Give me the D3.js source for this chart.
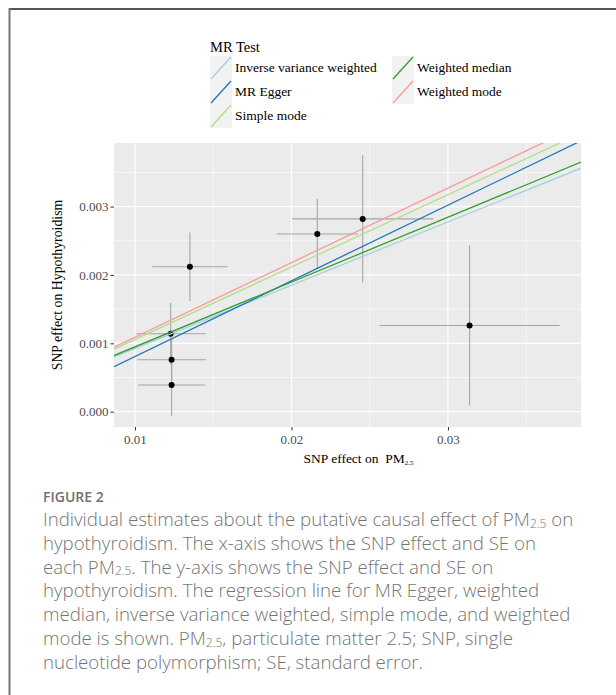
<!DOCTYPE html>
<html><head><meta charset="utf-8">
<script src="https://cdn.jsdelivr.net/npm/d3@7"></script>
<style>
html,body{margin:0;padding:0;background:#fff;}
svg{display:block;}
</style></head>
<body>
<svg id="fig" width="616" height="695"></svg>
<script>
// ---- data ----
const snpExposure = [0.01351, 0.01228, 0.01234, 0.01234, 0.02165, 0.02455, 0.03138];
const seExposure  = [0.00240, 0.00224, 0.00220, 0.00215, 0.00260, 0.00450, 0.00575];
const snpOutcome  = [0.00212, 0.00114, 0.00076, 0.00039, 0.00260, 0.00282, 0.00126];
const seOutcome   = [0.00050, 0.00045, 0.00030, 0.00045, 0.00051, 0.00093, 0.00117];

const methods    = ["Inverse variance weighted", "MR Egger", "Simple mode", "Weighted median", "Weighted mode"];
const slopes     = [0.0925, 0.1107, 0.1058, 0.0948, 0.1090];
const intercepts = [0, -0.0003, 0, 0, 0];
const colors     = ["#a6cee3", "#1f78b4", "#b2df8a", "#33a02c", "#fb9a99"];

const xTicks = [0.01, 0.02, 0.03];
const xTickLabels = ["0.01", "0.02", "0.03"];
const yTicks = [0.000, 0.001, 0.002, 0.003];
const yTickLabels = ["0.000", "0.001", "0.002", "0.003"];
const xMinor = [0.015, 0.025, 0.035];
const yMinor = [0.0005, 0.0015, 0.0025, 0.0035];

const captionTitle = "FIGURE 2";
const captionLines = [
  [["Individual estimates about the putative causal effect of PM"], ["2.5", 1], [" on"]],
  [["hypothyroidism. The x-axis shows the SNP effect and SE on"]],
  [["each PM"], ["2.5", 1], [". The y-axis shows the SNP effect and SE on"]],
  [["hypothyroidism. The regression line for MR Egger, weighted"]],
  [["median, inverse variance weighted, simple mode, and weighted"]],
  [["mode is shown. PM"], ["2.5", 1], [", particulate matter 2.5; SNP, single"]],
  [["nucleotide polymorphism; SE, standard error."]]
];

// ---- layout ----
const svg = d3.select("#fig");
const serif = "'Liberation Serif','Times New Roman',serif";
const P = {left:114, right:581, top:143, bottom:427};

const x = d3.scaleLinear().domain([0.00866, 0.0385]).range([P.left, P.right]);
const y = d3.scaleLinear().domain([-0.000224, 0.00393]).range([P.bottom, P.top]);

// frame
svg.append("line").attr("x1",9).attr("x2",616).attr("y1",9).attr("y2",9).attr("stroke","#555").attr("stroke-width",2);
svg.append("line").attr("x1",9.5).attr("x2",9.5).attr("y1",8).attr("y2",695).attr("stroke","#777").attr("stroke-width",2);

// panel
svg.append("rect").attr("x",P.left).attr("y",P.top).attr("width",P.right-P.left).attr("height",P.bottom-P.top).attr("fill","#ebebeb");
svg.append("clipPath").attr("id","pc").append("rect")
  .attr("x",P.left).attr("y",P.top).attr("width",P.right-P.left).attr("height",P.bottom-P.top);
const g = svg.append("g").attr("clip-path","url(#pc)");

g.selectAll(".xmin").data(xMinor).join("line").attr("x1",d=>x(d)).attr("x2",d=>x(d)).attr("y1",P.top).attr("y2",P.bottom).attr("stroke","#fff").attr("stroke-width",0.6);
g.selectAll(".ymin").data(yMinor).join("line").attr("y1",d=>y(d)).attr("y2",d=>y(d)).attr("x1",P.left).attr("x2",P.right).attr("stroke","#fff").attr("stroke-width",0.6);
g.selectAll(".xmaj").data(xTicks).join("line").attr("x1",d=>x(d)).attr("x2",d=>x(d)).attr("y1",P.top).attr("y2",P.bottom).attr("stroke","#fff").attr("stroke-width",1.2);
g.selectAll(".ymaj").data(yTicks).join("line").attr("y1",d=>y(d)).attr("y2",d=>y(d)).attr("x1",P.left).attr("x2",P.right).attr("stroke","#fff").attr("stroke-width",1.2);

const pts = snpExposure.map((v,i)=>({bx:v, sx:seExposure[i], by:snpOutcome[i], sy:seOutcome[i]}));
g.selectAll(".ev").data(pts).join("line").attr("x1",d=>x(d.bx)).attr("x2",d=>x(d.bx)).attr("y1",d=>y(d.by-d.sy)).attr("y2",d=>y(d.by+d.sy)).attr("stroke","#a6a6a6").attr("stroke-width",1.1);
g.selectAll(".eh").data(pts).join("line").attr("y1",d=>y(d.by)).attr("y2",d=>y(d.by)).attr("x1",d=>x(d.bx-d.sx)).attr("x2",d=>x(d.bx+d.sx)).attr("stroke","#a6a6a6").attr("stroke-width",1.1);
g.selectAll(".pt").data(pts).join("circle").attr("cx",d=>x(d.bx)).attr("cy",d=>y(d.by)).attr("r",3).attr("fill","#000");

const xd = x.domain();
const lines = methods.map((m,i)=>({m, b:slopes[i], a:intercepts[i], c:colors[i]}));
g.selectAll(".rl").data(lines).join("line")
  .attr("x1",x(xd[0])).attr("x2",x(xd[1]))
  .attr("y1",d=>y(d.a+d.b*xd[0])).attr("y2",d=>y(d.a+d.b*xd[1]))
  .attr("stroke",d=>d.c).attr("stroke-width",1.3);

// axes
const xAxis = svg.append("g").attr("transform",`translate(0,${P.bottom})`)
  .call(d3.axisBottom(x).tickValues(xTicks).tickFormat((d,i)=>xTickLabels[i]).tickSize(3.5).tickPadding(4));
const yAxis = svg.append("g").attr("transform",`translate(${P.left},0)`)
  .call(d3.axisLeft(y).tickValues(yTicks).tickFormat((d,i)=>yTickLabels[i]).tickSize(3.5).tickPadding(2));
[xAxis,yAxis].forEach(a=>{
  a.attr("font-size",null).attr("font-family",null);
  a.select(".domain").remove();
  a.selectAll(".tick line").attr("stroke","#333").attr("stroke-width",1);
  a.selectAll(".tick text").attr("fill","#4d4d4d").style("font-family",serif).style("font-size","13px");
});

// axis titles
const xt = svg.append("text").attr("x",(P.left+P.right)/2+11).attr("y",463).attr("text-anchor","middle")
  .style("font-family",serif).style("font-size","13.5px").attr("fill","#000");
xt.append("tspan").text("SNP effect on\u00a0\u00a0PM");
xt.append("tspan").attr("dy",2).style("font-size","7px").text("2.5");

svg.append("text").attr("transform",`translate(62,${(P.top+P.bottom)/2}) rotate(-90)`).attr("text-anchor","middle")
  .style("font-family",serif).style("font-size","13.8px").attr("fill","#000").text("SNP effect on Hypothyroidism");

// legend
svg.append("text").attr("x",210).attr("y",52).style("font-family",serif).style("font-size","14.5px").text("MR Test");
const cols = [[0,1,2],[3,4]];
const colX = [210, 392];
cols.forEach((idxs,ci)=>{
  idxs.forEach((mi,ri)=>{
    const kx = colX[ci], ky = 56 + ri*24;
    svg.append("rect").attr("x",kx).attr("y",ky).attr("width",22).attr("height",24).attr("fill","#f2f2f2");
    svg.append("line").attr("x1",kx+1).attr("y1",ky+23).attr("x2",kx+21).attr("y2",ky+1)
      .attr("stroke",colors[mi]).attr("stroke-width",1.3);
    svg.append("text").attr("x",kx+25).attr("y",ky+16).style("font-family",serif).style("font-size","13.5px").text(methods[mi]);
  });
});

// caption
const capFont = "'Open Sans','Noto Sans',sans-serif";
svg.append("text").attr("x",43).attr("y",502).style("font-family",capFont).style("font-size","14px")
  .style("font-weight",600).attr("fill","#707070").text(captionTitle);
const capG = svg.append("g");
captionLines.forEach((segs,li)=>{
  const t = capG.append("text").attr("x",43).attr("y",526+li*23.8).style("font-family",capFont)
    .style("font-size","17px").style("font-weight",300).attr("fill","#747474").attr("class","cap");
  segs.forEach((s,si)=>{
    const ts = t.append("tspan").text(s[0]);
    if(s[1]){ ts.attr("dy",1.5).attr("class","sub"); }
    else if (si>0) { ts.attr("dy",-1.5); }
  });
});
const first = capG.select("text").node();
const w = first.getComputedTextLength();
const fs = 17*540/w;
capG.selectAll("text.cap").style("font-size",fs+"px");
capG.selectAll("tspan.sub").style("font-size",(fs*0.64)+"px");
</script>
</body></html>
